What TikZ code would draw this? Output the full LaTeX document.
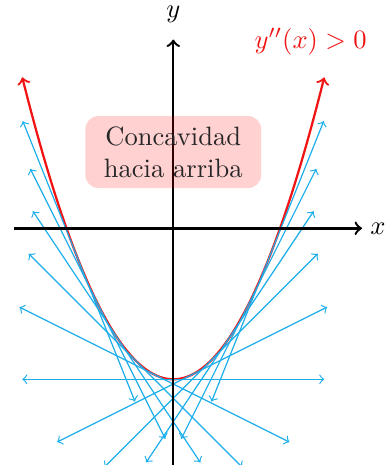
\documentclass[tikz,border=0pt]{standalone}
\usetikzlibrary{calc}
\definecolor{tancol}{RGB}{27,174,235}
\definecolor{curvecol}{RGB}{240,20,20}
\tikzset{
  axis/.style={line width=0.9pt,->},
  curve/.style={curvecol,line width=0.85pt,<->},
  tanline/.style={tancol,line width=0.45pt,<->},
  infobox/.style={fill=red,fill opacity=0.18,text opacity=1,rounded corners=5pt,
     inner xsep=7pt,inner ysep=4pt,align=center,text=black!85},
}
\begin{document}
\begin{tikzpicture}
\useasboundingbox (-2.295,-3.135) rectangle (2.804,3.024);
% parabola
\draw[curve] plot[domain=-2:2,samples=80,smooth] (\x,{\x*\x-2});
% tangent lines
\foreach \t in {-1.25,-1,-0.75,-0.5,-0.25,0,0.25,0.5,0.75,1,1.25}{
  \coordinate (p) at ({\t},{(\t)*(\t)-2});
  \draw[tanline] (p) ++({atan(2*\t)}:2) -- ++({atan(2*\t)+180}:4);
}
% axes
\coordinate (xs) at (-2.11,0);
\coordinate (xe) at (2.5,0);
\coordinate (ys) at (0,-3.14);
\coordinate (ye) at (0,2.5);
\draw[axis] (xs) -- (xe);
\draw[axis] (ys) -- (ye);
\node (xlab) at (2.71,0) {$x$};
\node (ylab) at (0,2.83) {$y$};
\node[text=curvecol] (cond) at (1.82,2.47) {$y''(x)>0$};
\node[infobox] (box) at (0,1.01) {Concavidad\\hacia arriba};
\end{tikzpicture}
\end{document}
